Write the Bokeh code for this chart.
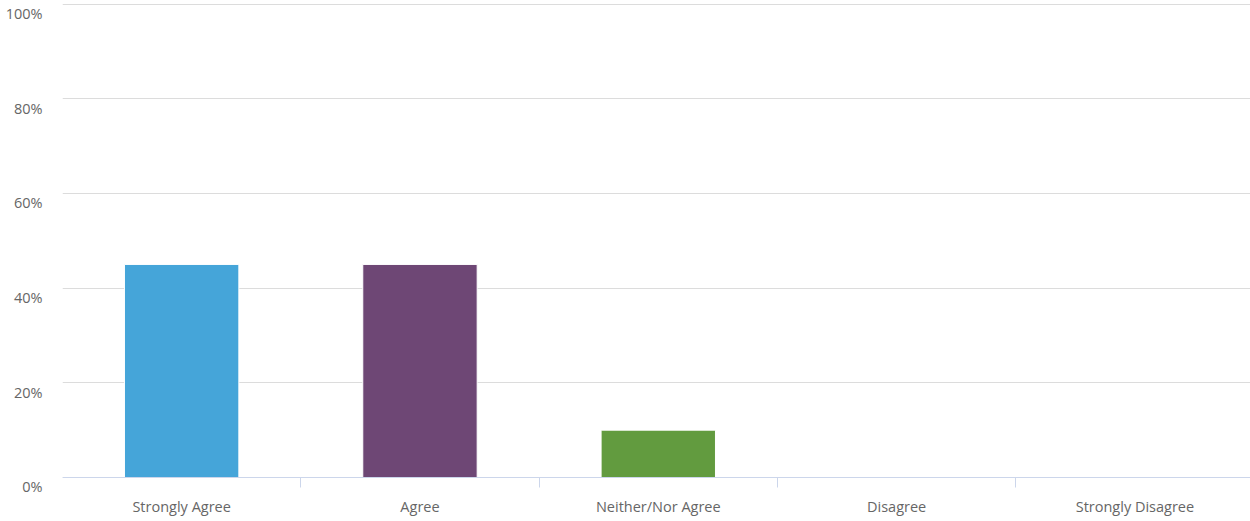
from bokeh.plotting import figure
from bokeh.models import ColumnDataSource, Range1d, FixedTicker, Grid, LinearAxis
from bokeh.embed import file_html
from bokeh.resources import INLINE

# Survey responses (share of respondents, %)
categories = ["Strongly Agree", "Agree", "Neither/Nor Agree", "Disagree", "Strongly Disagree"]
shares = [45, 45, 10, 0, 0]
colors = ["#45a5d9", "#6e4775", "#629b3f", "#cc5a5a", "#e0a030"]

y_ticks = [0, 20, 40, 60, 80, 100]
y_tick_labels = ["0%", "20%", "40%", "60%", "80%", "100%"]

FONT = "Open Sans"
TEXT_COLOR = "#666666"
FONT_SIZE = "14.5px"

centers = [i + 0.5 for i in range(len(categories))]
boundaries = [i for i in range(1, len(categories))]

X_END = len(categories) - 0.015   # last category runs just past the right edge
Y_END = 100.74      # a little headroom so the 100% grid line is visible
Y_START = -9.29     # room under the baseline for the category labels
LABEL_DROP = 2.0    # percentage labels hang just below their grid line

p = figure(width=1250, height=521, output_backend="svg", toolbar_location=None,
           x_range=Range1d(0, X_END), y_range=Range1d(Y_START, Y_END),
           x_axis_location=None, y_axis_location=None,
           min_border_left=62, min_border_right=0, min_border_top=0, min_border_bottom=0)
p.outline_line_color = None
p.background_fill_color = "white"
p.border_fill_color = "white"
for g in p.grid:
    g.visible = False

# horizontal grid lines
p.add_layout(Grid(dimension=1, ticker=FixedTicker(ticks=y_ticks),
                  grid_line_color="#dcdcdc", grid_line_width=1))

src = ColumnDataSource(dict(x=centers, top=shares, color=colors, cat=categories))
p.vbar(x="x", top="top", bottom=0, width=0.48, source=src,
       fill_color="color", line_color="white", line_width=1)

# category axis pinned to the 0% line: labels at centers, tick marks at the boundaries
xaxis = LinearAxis(fixed_location=0,
                   ticker=FixedTicker(ticks=centers, minor_ticks=boundaries),
                   major_label_overrides={c: lab for c, lab in zip(centers, categories)},
                   axis_line_color="#ccd6eb", axis_line_width=1,
                   major_tick_line_color=None, major_tick_out=0, major_tick_in=0,
                   minor_tick_line_color="#ccd6eb", minor_tick_out=10, minor_tick_in=0,
                   major_label_standoff=9,
                   major_label_text_font=FONT, major_label_text_font_size=FONT_SIZE,
                   major_label_text_color=TEXT_COLOR)
p.add_layout(xaxis, "below")

# percentage axis on a slightly shifted range so each label sits under its grid line
p.extra_y_ranges = {"ylab": Range1d(Y_START + LABEL_DROP, Y_END + LABEL_DROP)}
yaxis = LinearAxis(y_range_name="ylab",
                   ticker=FixedTicker(ticks=y_ticks),
                   major_label_overrides={t: lab for t, lab in zip(y_ticks, y_tick_labels)},
                   axis_line_color=None, major_tick_line_color=None,
                   minor_tick_line_color=None, major_tick_out=0, major_tick_in=0,
                   major_label_standoff=20,
                   major_label_text_font=FONT, major_label_text_font_size=FONT_SIZE,
                   major_label_text_color=TEXT_COLOR)
p.add_layout(yaxis, "left")

open("out.html", "w").write(file_html(p, INLINE))
